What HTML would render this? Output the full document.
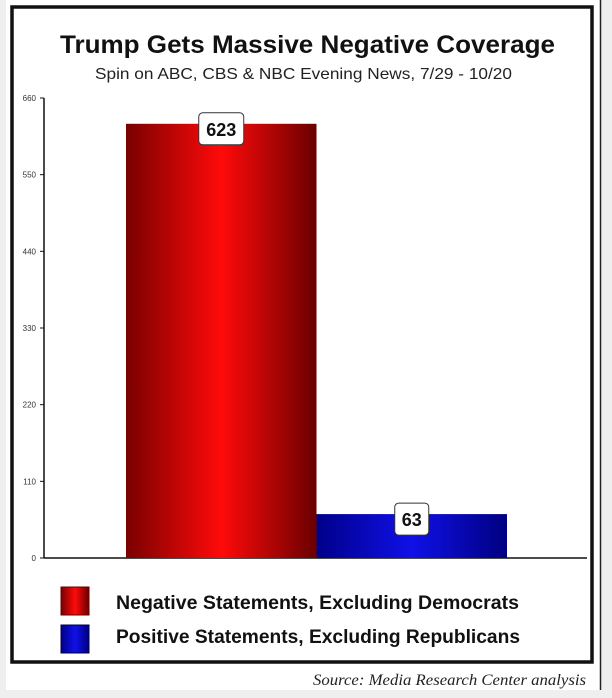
<!DOCTYPE html>
<html><head><meta charset="utf-8"><style>
html,body{margin:0;padding:0;background:#efefef;}
svg{display:block;font-family:"Liberation Sans",sans-serif;}
</style></head><body>
<svg id="c" width="612" height="698" viewBox="0 0 612 698" xmlns="http://www.w3.org/2000/svg">
<defs>
<linearGradient id="gr" x1="0" x2="1" y1="0" y2="0">
<stop offset="0" stop-color="#7a0000"/><stop offset="0.5" stop-color="#ff0a0a"/><stop offset="1" stop-color="#6a0000"/></linearGradient>
<linearGradient id="gb" x1="0" x2="1" y1="0" y2="0">
<stop offset="0" stop-color="#00008a"/><stop offset="0.5" stop-color="#1010e8"/><stop offset="1" stop-color="#000080"/></linearGradient>
</defs>
<rect x="0" y="0" width="612" height="698" fill="#efefef"/>
<rect x="6" y="0" width="594" height="690" fill="#ffffff"/>
<line x1="600.5" y1="0" x2="600.5" y2="690" stroke="#222" stroke-width="1.5"/>
<rect x="12" y="7" width="580" height="655" fill="#fff" stroke="#111" stroke-width="3.5"/>
<text x="60" y="53" textLength="495" lengthAdjust="spacingAndGlyphs" font-size="25" font-weight="bold" fill="#111">Trump Gets Massive Negative Coverage</text>
<text x="95" y="79" textLength="417" lengthAdjust="spacingAndGlyphs" font-size="16" fill="#222">Spin on ABC, CBS &amp; NBC Evening News, 7/29 - 10/20</text>
<g id="axis"></g>
<g id="bars"></g>
<g>
<rect x="61" y="587" width="28" height="28" fill="url(#gr)" stroke="#600"/>
<text x="116" y="609" textLength="403" lengthAdjust="spacingAndGlyphs" font-size="19" font-weight="bold" fill="#111">Negative Statements, Excluding Democrats</text>
<rect x="61" y="625" width="28" height="28" fill="url(#gb)" stroke="#004"/>
<text x="116" y="643" textLength="404" lengthAdjust="spacingAndGlyphs" font-size="19" font-weight="bold" fill="#111">Positive Statements, Excluding Republicans</text>
</g>
<text x="313" y="685" textLength="273" lengthAdjust="spacingAndGlyphs" font-size="16" font-style="italic" fill="#222" font-family="Liberation Serif,serif">Source: Media Research Center analysis</text>
</svg>
<script>
const categories = ["Negative Statements, Excluding Democrats", "Positive Statements, Excluding Republicans"];
const values = [623, 63];
const tickValues = [0, 110, 220, 330, 440, 550, 660];
const fills = ["url(#gr)", "url(#gb)"];
const NS = "http://www.w3.org/2000/svg";
const y0 = 558, y1 = 98, yMax = 660, xAxis = 44, xEnd = 587, barStart = 126, barW = 190.5;
function y(v){ return y0 - (v / yMax) * (y0 - y1); }
function mk(t, a, p){ const e = document.createElementNS(NS, t); for (const k in a) e.setAttribute(k, a[k]); p.appendChild(e); return e; }
const ax = document.getElementById('axis');
mk('line', {x1:xAxis, y1:y1, x2:xAxis, y2:y0, stroke:'#111', 'stroke-width':1.5}, ax);
const base = mk('line', {x1:xAxis, y1:y0, x2:xEnd, y2:y0, stroke:'#111', 'stroke-width':1.5}, ax);


tickValues.forEach(v => {
  const tk = mk('line', {x1:xAxis-4, y1:y(v), x2:xAxis, y2:y(v), stroke:'#111', 'stroke-width':1}, ax);
  
  
  const t = mk('text', {x:xAxis-8, y:y(v)+3, 'text-anchor':'end', 'font-size':8, fill:'#333'}, ax);
  t.textContent = v;
  
  
});
const bg = document.getElementById('bars');
values.forEach((v, i) => {
  const x = barStart + i * barW;
  const r = mk('rect', {x:x, y:y(v), width:barW, height:y0 - y(v), fill:fills[i]}, bg);
  
  
  const label = String(v);
  const bw = label.length * 11 + 12, cx = x + barW / 2, cy = y(v);
  const box = mk('rect', {x:cx - bw/2, y:cy - 11, width:bw, height:32, rx:4, fill:'#fff', stroke:'#333', 'stroke-width':1}, bg);
  
  
  const t = mk('text', {x:cx, y:cy + 12, 'text-anchor':'middle', 'font-size':18, 'font-weight':'bold', fill:'#111'}, bg);
  t.textContent = label;
  
  
});
</script>
</body></html>
